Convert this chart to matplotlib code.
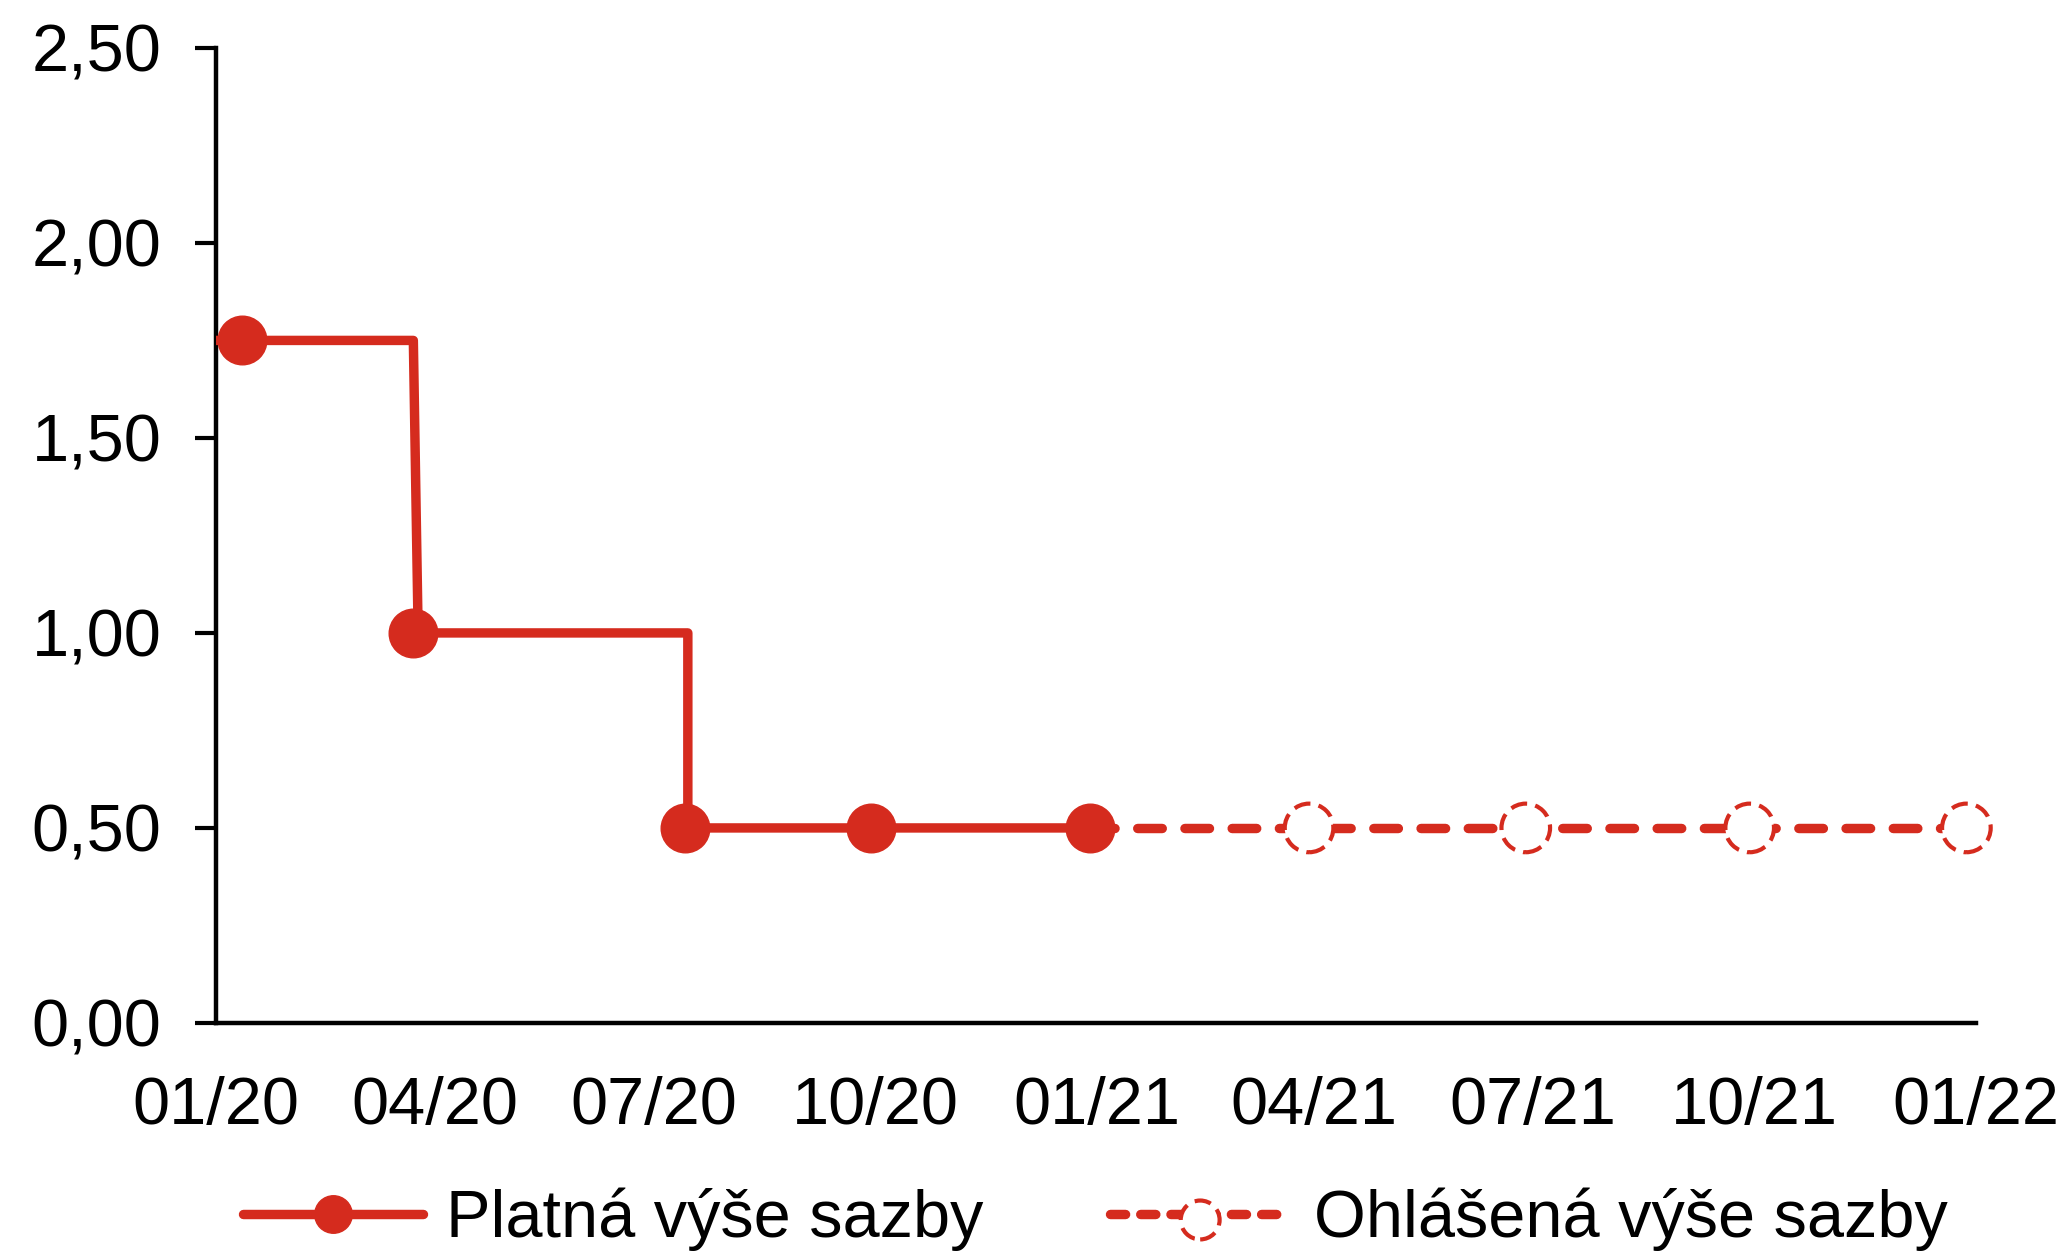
import matplotlib
matplotlib.use("Agg")
import matplotlib.pyplot as plt
from matplotlib.ticker import FuncFormatter, MultipleLocator
from matplotlib.legend_handler import HandlerTuple, HandlerPathCollection
from matplotlib.lines import Line2D
import numpy as np

plt.rcParams['font.family'] = ['Liberation Sans', 'DejaVu Sans']

# ---- data ----
step_dates = ["2020-01-01", "2020-03-23", "2020-03-25", "2020-07-15", "2020-07-15", "2020-12-29"]
step_values = [1.75, 1.75, 1.00, 1.00, 0.50, 0.50]

valid_dates = ["2020-01-12", "2020-03-23", "2020-07-14", "2020-09-29", "2020-12-29"]
valid_values = [1.75, 1.00, 0.50, 0.50, 0.50]

announced_line_dates = ["2020-12-29", "2021-12-28"]
announced_line_values = [0.50, 0.50]
announced_dates = ["2021-03-30", "2021-06-28", "2021-09-29", "2021-12-28"]
announced_values = [0.50, 0.50, 0.50, 0.50]

tick_dates = ["2020-01-01", "2020-04-01", "2020-07-01", "2020-10-01", "2021-01-01",
              "2021-04-01", "2021-07-01", "2021-10-01", "2022-01-01"]
tick_labels = ["01/20", "04/20", "07/20", "10/20", "01/21", "04/21", "07/21", "10/21", "01/22"]

labels = ["Platná výše sazby", "Ohlášená výše sazby"]

RED = "#D52B1E"
FS = 48

def to_dt(lst):
    return [np.datetime64(d) for d in lst]

fig = plt.figure(figsize=(20.7, 12.51), dpi=100)
ax = fig.add_axes([0.1043, 0.1823, 0.8503, 0.7794])

lw = 6.8
ax.plot(to_dt(step_dates), step_values, color=RED, lw=lw, solid_capstyle='round',
        solid_joinstyle='round', zorder=3)
ax.plot(to_dt(valid_dates), valid_values, linestyle='none', marker='o',
        markersize=35, color=RED, zorder=5, clip_on=False)
ax.plot(to_dt(announced_line_dates), announced_line_values, color=RED, lw=lw,
        linestyle=(0, (2.6, 2.4)), dash_capstyle='round', zorder=2, clip_on=False)
h_ann_pts = ax.scatter(to_dt(announced_dates), announced_values, s=35**2, facecolors='white',
                       edgecolors=RED, linewidths=3.0, linestyles=(0, (4.0, 2.0)),
                       zorder=4, clip_on=False)

ax.set_xlim(np.datetime64("2020-01-01"), np.datetime64("2022-01-01"))
ax.set_ylim(0, 2.5)
ax.yaxis.set_major_locator(MultipleLocator(0.5))
ax.yaxis.set_major_formatter(FuncFormatter(lambda v, p: f"{v:.2f}".replace('.', ',')))
ax.set_xticks(to_dt(tick_dates))
ax.set_xticklabels(tick_labels)

for s in ['top', 'right']:
    ax.spines[s].set_visible(False)
for s in ['left', 'bottom']:
    ax.spines[s].set_linewidth(3.2)
ax.tick_params(axis='y', length=15, width=3.0, pad=24, labelsize=FS, direction='out')
ax.tick_params(axis='x', length=0, pad=38, labelsize=FS)

# Legend
h_solid_leg = Line2D([], [], color=RED, lw=lw, marker='o', markersize=27,
                     solid_capstyle='round')
h_dash_leg = Line2D([], [], color=RED, lw=lw, linestyle=(0, (1.6, 1.6)),
                    dash_capstyle='round')
leg = fig.legend([h_solid_leg, (h_dash_leg, h_ann_pts)], labels,
                 loc='center', bbox_to_anchor=(0.529, 0.025), ncol=2, frameon=False,
                 fontsize=FS, handlelength=2.7, handletextpad=0.35, columnspacing=1.9,
                 numpoints=1, scatterpoints=1,
                 handler_map={tuple: HandlerTuple(ndivide=1, pad=0),
                              h_ann_pts: HandlerPathCollection(sizes=[28**2])})

fig.savefig("out.png", dpi=100)
